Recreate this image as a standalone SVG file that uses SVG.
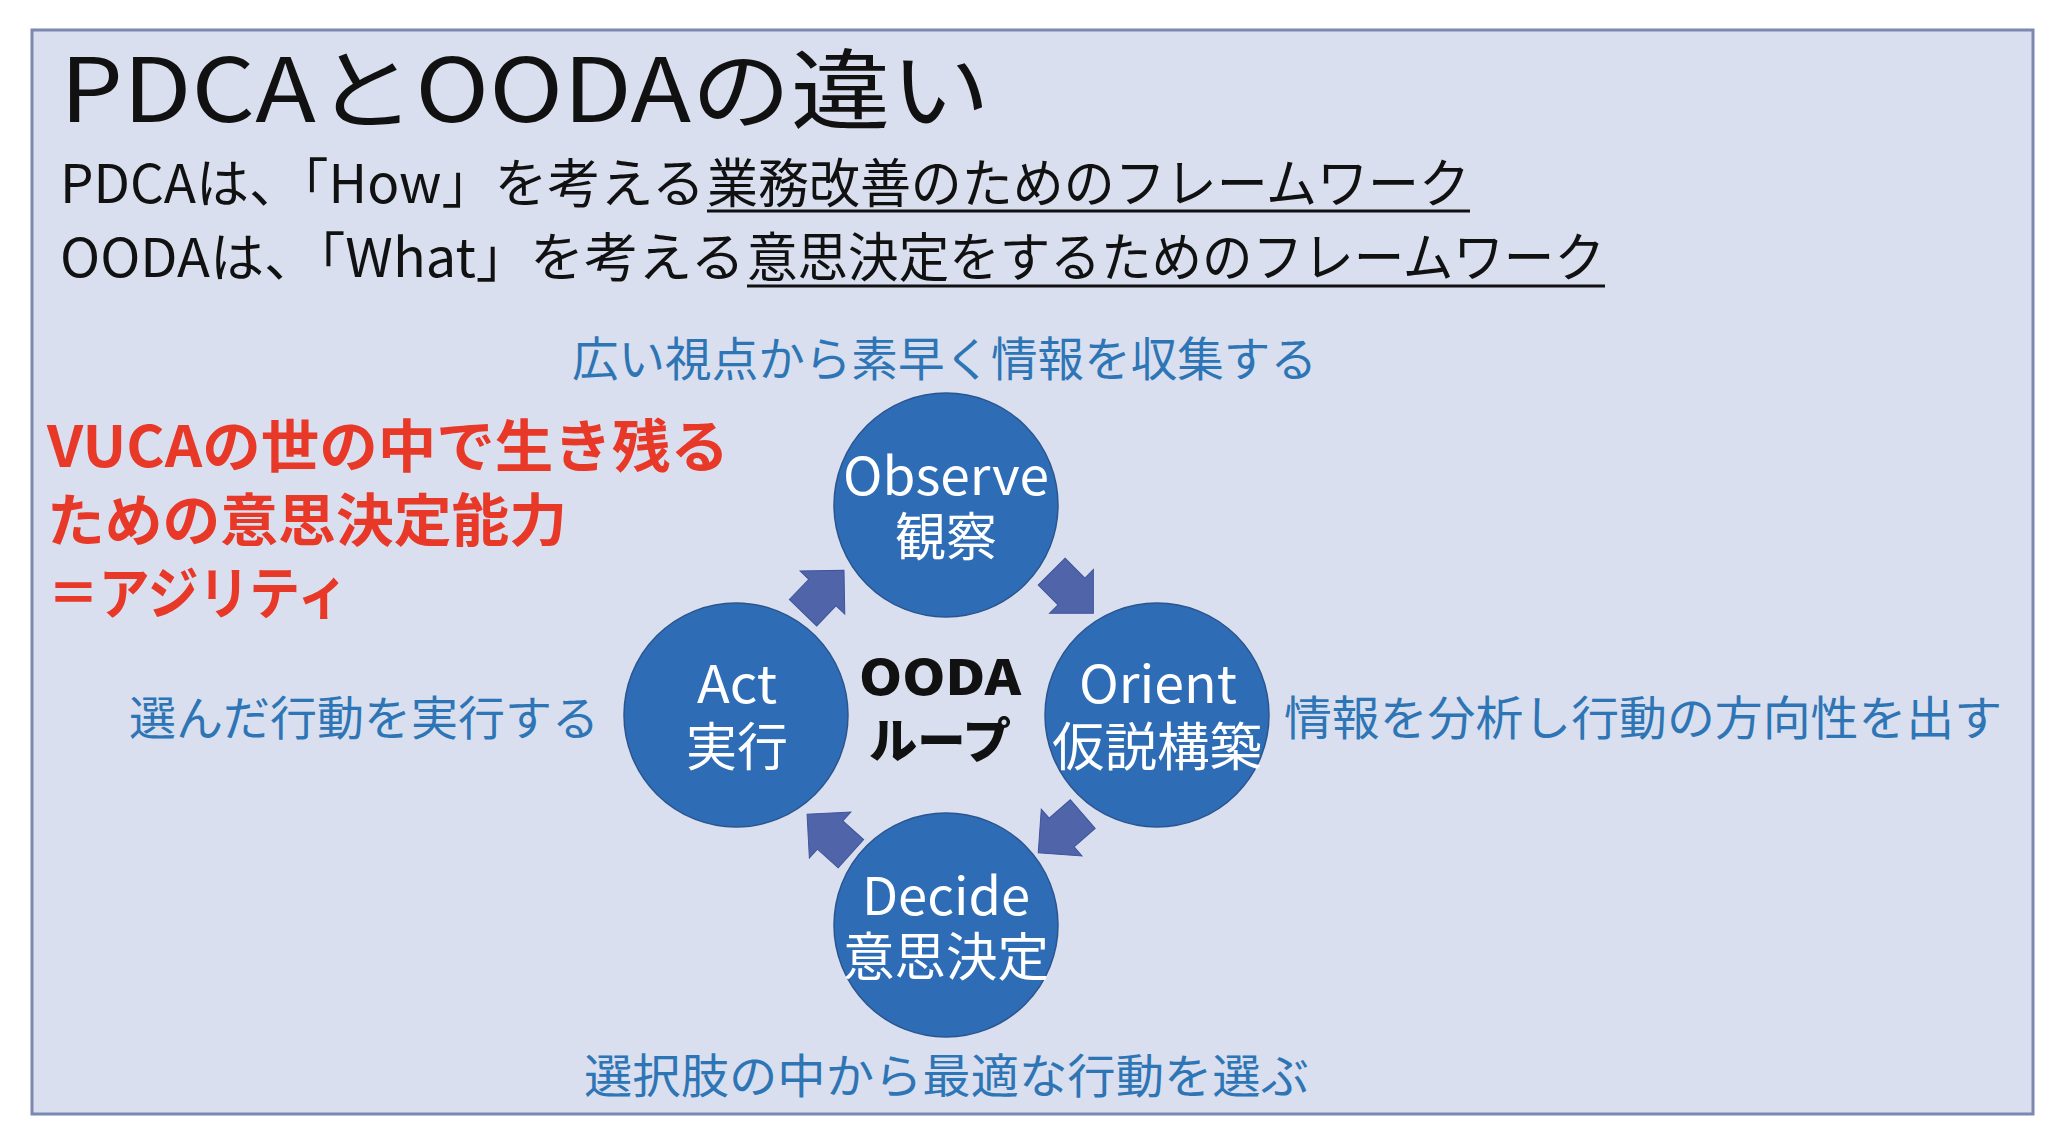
<svg xmlns="http://www.w3.org/2000/svg" xmlns:xlink="http://www.w3.org/1999/xlink" width="2056" height="1144" viewBox="0 0 2056 1144">
<style>
text { font-family: "Noto Sans CJK JP", "Noto Sans", sans-serif; }
.blk { fill: #111111; }
.lbl { fill: #2e75b6; font-size: 47px; }
.red { fill: #e83828; font-size: 57px; font-weight: 700; }
.node { fill: #2e6db6; stroke: #2a5590; stroke-width: 1.5; }
.nt { fill: #ffffff; font-size: 52px; text-anchor: middle; }
.ul { stroke: #111111; stroke-width: 3; }
.arw { fill: #4f64a9; stroke: #40549a; stroke-width: 1; }
</style>
<defs>
<path id="arr" d="M -29.5,-19 L -1.5,-19 L -1.5,-31 L 29.5,0 L -1.5,31 L -1.5,19 L -29.5,19 Z"/>
</defs>
<rect x="0" y="0" width="2056" height="1144" fill="#ffffff"/>
<rect id="frame" x="32" y="30" width="2001" height="1084" fill="#d9dfee" stroke="#7c88b0" stroke-width="3"/>

<g id="title">
<text class="blk" x="60" y="122" font-size="88" textLength="930" lengthAdjust="spacingAndGlyphs">PDCAとOODAの違い</text>
</g>
<g id="subtitle">
<text class="blk" y="203" font-size="53"><tspan x="60" textLength="645" lengthAdjust="spacingAndGlyphs">PDCAは、「How」を考える</tspan><tspan x="707" textLength="763" lengthAdjust="spacingAndGlyphs">業務改善のためのフレームワーク</tspan></text>
<line class="ul" x1="707" y1="211" x2="1470" y2="211"/>
<text class="blk" y="277" font-size="53"><tspan x="60" textLength="685" lengthAdjust="spacingAndGlyphs">OODAは、「What」を考える</tspan><tspan x="747" textLength="858" lengthAdjust="spacingAndGlyphs">意思決定をするためのフレームワーク</tspan></text>
<line class="ul" x1="747" y1="286" x2="1605" y2="286"/>
</g>

<g id="vuca">
<text class="red" x="47" y="467" textLength="682" lengthAdjust="spacingAndGlyphs">VUCAの世の中で生き残る</text>
<text class="red" x="47" y="541" textLength="520" lengthAdjust="spacingAndGlyphs">ための意思決定能力</text>
<text class="red" x="48" y="614" textLength="300" lengthAdjust="spacingAndGlyphs">＝アジリティ</text>
</g>

<g id="connectors">
<use href="#arr" class="arw" transform="translate(823.5,591.5) rotate(-46)"/>
<use href="#arr" class="arw" transform="translate(1072.5,592.5) rotate(45)"/>
<use href="#arr" class="arw" transform="translate(1060.5,833.5) rotate(139)"/>
<use href="#arr" class="arw" transform="translate(829,834) rotate(-138)"/>
</g>

<g id="observe">
<circle class="node" cx="946" cy="505" r="112"/>
<text class="nt" x="946" y="495" textLength="206" lengthAdjust="spacingAndGlyphs">Observe</text>
<text class="nt" x="946" y="556" textLength="102" lengthAdjust="spacingAndGlyphs">観察</text>
</g>
<g id="orient">
<circle class="node" cx="1157" cy="715" r="112"/>
<text class="nt" x="1158" y="703" textLength="158" lengthAdjust="spacingAndGlyphs">Orient</text>
<text class="nt" x="1157" y="766" textLength="210" lengthAdjust="spacingAndGlyphs">仮説構築</text>
</g>
<g id="decide">
<circle class="node" cx="946" cy="925" r="112"/>
<text class="nt" x="946" y="915" textLength="168" lengthAdjust="spacingAndGlyphs">Decide</text>
<text class="nt" x="946" y="976" textLength="206" lengthAdjust="spacingAndGlyphs">意思決定</text>
</g>
<g id="act">
<circle class="node" cx="736" cy="715" r="112"/>
<text class="nt" x="737" y="703" textLength="80" lengthAdjust="spacingAndGlyphs">Act</text>
<text class="nt" x="737" y="766" textLength="102" lengthAdjust="spacingAndGlyphs">実行</text>
</g>
<g id="center">
<text class="blk" x="940" y="695" font-size="48" font-weight="900" text-anchor="middle" textLength="162" lengthAdjust="spacingAndGlyphs">OODA</text>
<text class="blk" x="940" y="758" font-size="48" font-weight="900" text-anchor="middle" textLength="142" lengthAdjust="spacingAndGlyphs">ループ</text>
</g>

<g id="labels">
<text class="lbl" x="572" y="376" textLength="745" lengthAdjust="spacingAndGlyphs">広い視点から素早く情報を収集する</text>
<text class="lbl" x="1284" y="735" textLength="718" lengthAdjust="spacingAndGlyphs">情報を分析し行動の方向性を出す</text>
<text class="lbl" x="584" y="1093" textLength="725" lengthAdjust="spacingAndGlyphs">選択肢の中から最適な行動を選ぶ</text>
<text class="lbl" x="129" y="735" textLength="470" lengthAdjust="spacingAndGlyphs">選んだ行動を実行する</text>
</g>
</svg>
